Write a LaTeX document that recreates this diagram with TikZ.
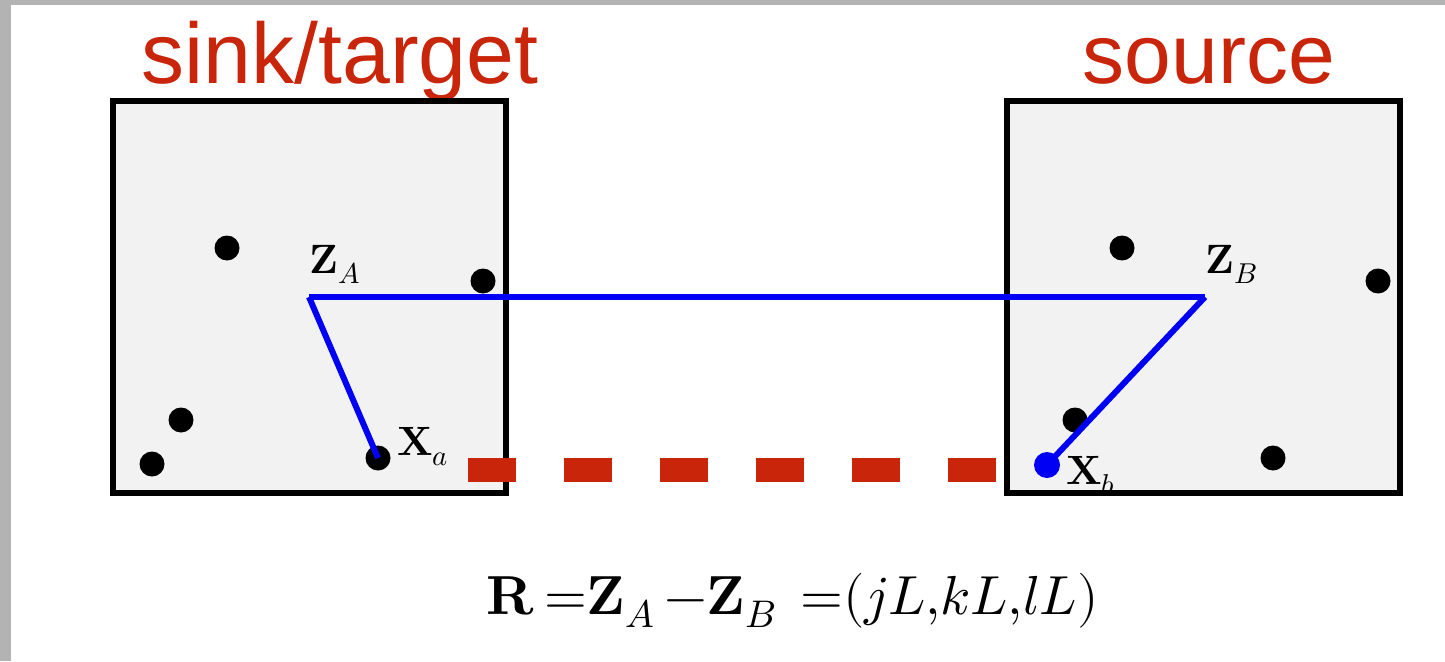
\documentclass[tikz,border=0pt]{standalone}
\usepackage{fontspec}
\setmainfont{Liberation Sans}
\usepackage{amsmath}
\usepackage{unicode-math}
\setmathfont{Latin Modern Math}
\definecolor{titlered}{RGB}{200,37,11}
\definecolor{frame}{RGB}{179,179,179}
\definecolor{boxfill}{RGB}{242,242,242}
\definecolor{linkblue}{RGB}{0,0,245}
\begin{document}
\begin{tikzpicture}[x=1pt,y=-1pt,
  cellbox/.style={draw=black,fill=boxfill,line width=6pt,minimum width=393pt,minimum height=392pt,inner sep=0pt,outer sep=0pt,anchor=north west},
  dot/.style={circle,fill=black,minimum size=25pt,inner sep=0pt},
  bluedot/.style={circle,fill=linkblue,minimum size=26pt,inner sep=0pt},
  link/.style={linkblue,line width=6pt},
  reddash/.style={titlered,line width=24pt,dash pattern=on 48pt off 48pt},
  title/.style={text=titlered,font=\fontsize{86}{96}\selectfont,inner sep=0pt,anchor=base},
  lab/.style={font=\fontsize{41}{45}\selectfont,inner sep=0pt,anchor=base west}
]
\useasboundingbox (0,0) rectangle (1445,661);
\fill[white] (0,0) rectangle (1445,661);
\fill[frame] (0,0) rectangle (1445,5.5);
\fill[frame] (0,0) rectangle (11,661);

\node[title] (sinkt) at (340,84) {sink/target};
\node[title,font=\fontsize{84}{94}\selectfont] (srct) at (1209,84) {source};

\node[cellbox] (sink) at (113,101) {};
\node[cellbox] (src) at (1007,101) {};

% dots in sink box
\node[dot] (a1) at (227,248) {};
\node[dot] (a2) at (483,281) {};
\node[dot] (a3) at (181,420) {};
\node[dot] (a4) at (152,464) {};
\node[dot] (xa) at (378,458) {};
% dots in source box
\node[dot] (b1) at (1122,248) {};
\node[dot] (b2) at (1378,281) {};
\node[dot] (b3) at (1075,420) {};
\node[dot] (b4) at (1273,458) {};

\coordinate (za) at (309,297);
\coordinate (zb) at (1205,297);

\draw[link,line cap=butt] (za) -- (zb);
\draw[link] (za) -- (xa.center);

\node[bluedot] (xb) at (1047,465) {};
\draw[link] (zb) -- (xb.center);

\coordinate (dashstart) at (468,470);
\coordinate (dashend) at (996,470);
\draw[reddash] (dashstart) -- (dashend);

\node[lab] (zal) at (309,273) {$\symbfup{Z}_{A}$};
\node[lab] (xal) at (397,455) {$\symbfup{X}_{a}$};
\node[lab] (zbl) at (1205,273) {$\symbfup{Z}_{B}$};
\node[lab] (xbl) at (1066,484) {$\symbfup{X}_{b}$};

\node[font=\fontsize{55}{60}\selectfont,inner sep=0pt,anchor=base west] (formula) at (486,614)
  {$\symbfup{R}\,{=}\symbfup{Z}_{A}\,{-}\symbfup{Z}_{B}\;\,{=}(jL{,}kL{,}lL)$};
\end{tikzpicture}
\end{document}
